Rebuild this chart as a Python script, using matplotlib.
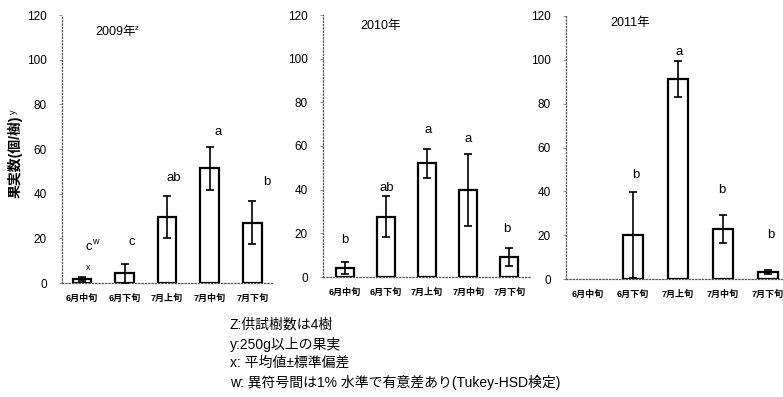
import numpy as np
import matplotlib
matplotlib.use("Agg")
import matplotlib.pyplot as plt

plt.rcParams['font.family'] = ['Liberation Sans', 'Noto Sans CJK JP', 'DejaVu Sans']

periods = ["6月中旬", "6月下旬", "7月上旬", "7月中旬", "7月下旬"]

# 2009
mean_2009 = [1.8, 4.3, 29.6, 51.3, 27.0]
sd_2009 = [1.0, 4.1, 9.5, 9.7, 9.5]
let_2009 = ["c", "c", "ab", "a", "b"]
let_x_2009 = [0.15, 1.17, 2.15, 3.2, 4.35]
let_y_2009 = [16.3, 18.5, 46.9, 67.5, 45.4]

# 2010
mean_2010 = [4.1, 27.7, 52.1, 39.9, 9.1]
sd_2010 = [2.6, 9.3, 6.6, 16.6, 4.0]
let_2010 = ["b", "ab", "a", "a", "b"]
let_x_2010 = [0.0, 1.02, 2.02, 3.0, 3.93]
let_y_2010 = [17.1, 40.7, 67.1, 63.1, 22.0]

# 2011 (no fruit in 6月中旬)
mean_2011 = [np.nan, 20.2, 91.2, 22.8, 3.2]
sd_2011 = [np.nan, 19.6, 8.3, 6.5, 0.8]
let_2011 = ["", "b", "a", "b", "b"]
let_x_2011 = [0.0, 1.06, 2.03, 2.99, 4.06]
let_y_2011 = [0.0, 47.3, 103.5, 40.4, 20.2]

titles = ["2009年", "2010年", "2011年"]

notes = ["Z:供試樹数は4樹",
         "y:250g以上の果実",
         "x: 平均値±標準偏差",
         "w: 異符号間は1% 水準で有意差あり(Tukey-HSD検定)"]

W, H = 783, 397
fig = plt.figure(figsize=(W / 100, H / 100), dpi=100)

# axes boxes in pixels: left, right, bottom(y=0), top(y=120)
boxes = [(62, 273, 283, 15), (323, 530, 277, 15), (566, 783, 279, 16)]
xlims = [(-0.47, 4.49), (-0.53, 4.5), (-0.48, 4.34)]
title_pos = [(95, 32), (360, 26), (610, 23)]

data = [(mean_2009, sd_2009, let_2009, let_x_2009, let_y_2009),
        (mean_2010, sd_2010, let_2010, let_x_2010, let_y_2010),
        (mean_2011, sd_2011, let_2011, let_x_2011, let_y_2011)]

x = np.arange(len(periods))
for i, (l, r, b, t) in enumerate(boxes):
    ax = fig.add_axes([l / W, 1 - b / H, (r - l) / W, (b - t) / H])
    mean, sd, lets, lx, ly = data[i]
    ax.bar(x, mean, width=0.44, color='white', edgecolor='black', linewidth=1.6, zorder=2)
    ax.errorbar(x, mean, yerr=sd, fmt='none', ecolor='black', elinewidth=1.2,
                capsize=3, capthick=1.2, zorder=3)
    for k in range(len(lets)):
        if lets[k]:
            ax.text(lx[k], ly[k], lets[k], ha='center', va='center', fontsize=9.5)
    ax.set_xlim(*xlims[i])
    ax.set_ylim(0, 120)
    ax.set_yticks(range(0, 121, 20))
    ax.set_xticks(x)
    ax.set_xticklabels(periods, fontsize=6.5, fontweight='bold')
    ax.tick_params(axis='x', length=0, pad=8)
    ax.tick_params(axis='y', length=2, width=0.6, pad=9, labelsize=8.5, color='gray')
    for s in ['top', 'right']:
        ax.spines[s].set_visible(False)
    for s in ['left', 'bottom']:
        ax.spines[s].set_linestyle(':')
        ax.spines[s].set_color('#555555')
        ax.spines[s].set_linewidth(0.9)
    fig.text(title_pos[i][0] / W, 1 - title_pos[i][1] / H, titles[i],
             ha='left', va='center', fontsize=9)

# superscript marks for 2009
fig.text(135 / W, 1 - 29 / H, "z", fontsize=5.5, ha='left', va='center')
fig.text(92 / W, 1 - 242 / H, "w", fontsize=6.5, ha='left', va='center')
fig.text(88 / W, 1 - 267 / H, "x", fontsize=6.5, ha='center', va='center')

fig.text(15 / W, 1 - 157 / H, "果実数(個/樹)", rotation=90, ha='center', va='center',
         fontsize=10, fontweight='bold')
fig.text(13 / W, 1 - 112 / H, "y", rotation=90, ha='center', va='center', fontsize=6.5)

for j, line in enumerate(notes):
    fig.text(230 / W, 1 - (325 + 19 * j) / H, line, ha='left', va='center', fontsize=10)

fig.savefig("out.png", dpi=100)
